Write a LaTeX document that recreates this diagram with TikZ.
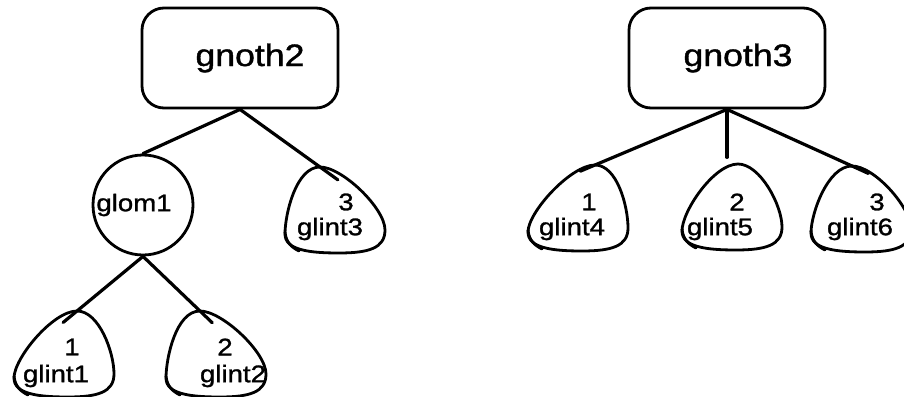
\documentclass[tikz,border=0pt]{standalone}
\usepackage{fontspec}
\newfontfamily\lab[FakeStretch=1.15,FakeBold=1.2]{Liberation Sans}
\tikzset{
  outline/.style={line width=2.8pt, line join=round, line cap=round},
  conn/.style={line width=3.2pt, line cap=round},
  bigbox/.style={draw, outline, rounded corners=22pt, minimum width=196pt, minimum height=100pt, inner sep=0pt, font=\lab\fontsize{31}{31}\selectfont},
  circ/.style={draw, outline, circle, minimum size=100pt, inner sep=0pt, font=\lab\fontsize{24}{24}\selectfont},
  txt/.style={inner sep=0pt, font=\lab\fontsize{24}{24}\selectfont},
  blob/.pic={
    \draw[outline] (#1,-43) .. controls (#1+22,-43) and (50,-2) .. (50,20)
      .. controls (50,38) and (34,43) .. (4,43)
      .. controls (-26,43) and (-50,40) .. (-50,24)
      .. controls (-50,4) and (#1-24,-43) .. (#1,-43) -- cycle;
    \draw[outline] (-50,22) .. controls (-49,32) and (-44,37) .. (-36,41);
    \coordinate (-apex) at (#1,-43);
  }
}
\begin{document}
\begin{tikzpicture}[x=1pt,y=-1pt]
\useasboundingbox (0,0) rectangle (904,396);
% top boxes
\node[bigbox] (gnoth2) at (240,58) {\hspace*{20pt}gnoth2};
\node[bigbox] (gnoth3) at (727,58) {\hspace*{22pt}gnoth3};
% glom1
\node[circ] (glom1) at (143,205) {glom1\hspace*{18pt}};
% blobs
\pic (g1) at (64,354) {blob=13};
\pic (g2) at (216,354) {blob=-16};
\pic (g3) at (335,210) {blob=-15};
\pic (g4) at (578,208) {blob=17};
\pic (g5) at (732,207) {blob=6};
\pic (g6) at (861,209) {blob=-9};
% texts
\node[txt] (g1num) at (72,347) {1};
\node[txt] (g1txt) at (56,376) {glint1};
\node[txt] (g2num) at (225,347) {2};
\node[txt] (g2txt) at (233,376) {glint2};
\node[txt] (g3num) at (346,202) {3};
\node[txt] (g3txt) at (330,229) {glint3};
\node[txt] (g4num) at (589,202) {1};
\node[txt] (g4txt) at (572,229) {glint4};
\node[txt] (g5num) at (737,202) {2};
\node[txt] (g5txt) at (720,229) {glint5};
\node[txt] (g6num) at (877,202) {3};
\node[txt] (g6txt) at (860,229) {glint6};
% connectors
\draw[conn] (gnoth2.south) -- (glom1.north);
\draw[conn, shorten >=-22pt] (gnoth2.south) -- (g3-apex);
\draw[conn, shorten >=-18pt] (glom1.south) -- (g1-apex);
\draw[conn, shorten >=-17pt] (glom1.south) -- (g2-apex);
\draw[conn, shorten >=-16pt] (gnoth3.south) -- (g4-apex);
\draw[conn] (gnoth3.south) -- ++(0,48);
\draw[conn, shorten >=-18pt] (gnoth3.south) -- (g6-apex);
\end{tikzpicture}
\end{document}
